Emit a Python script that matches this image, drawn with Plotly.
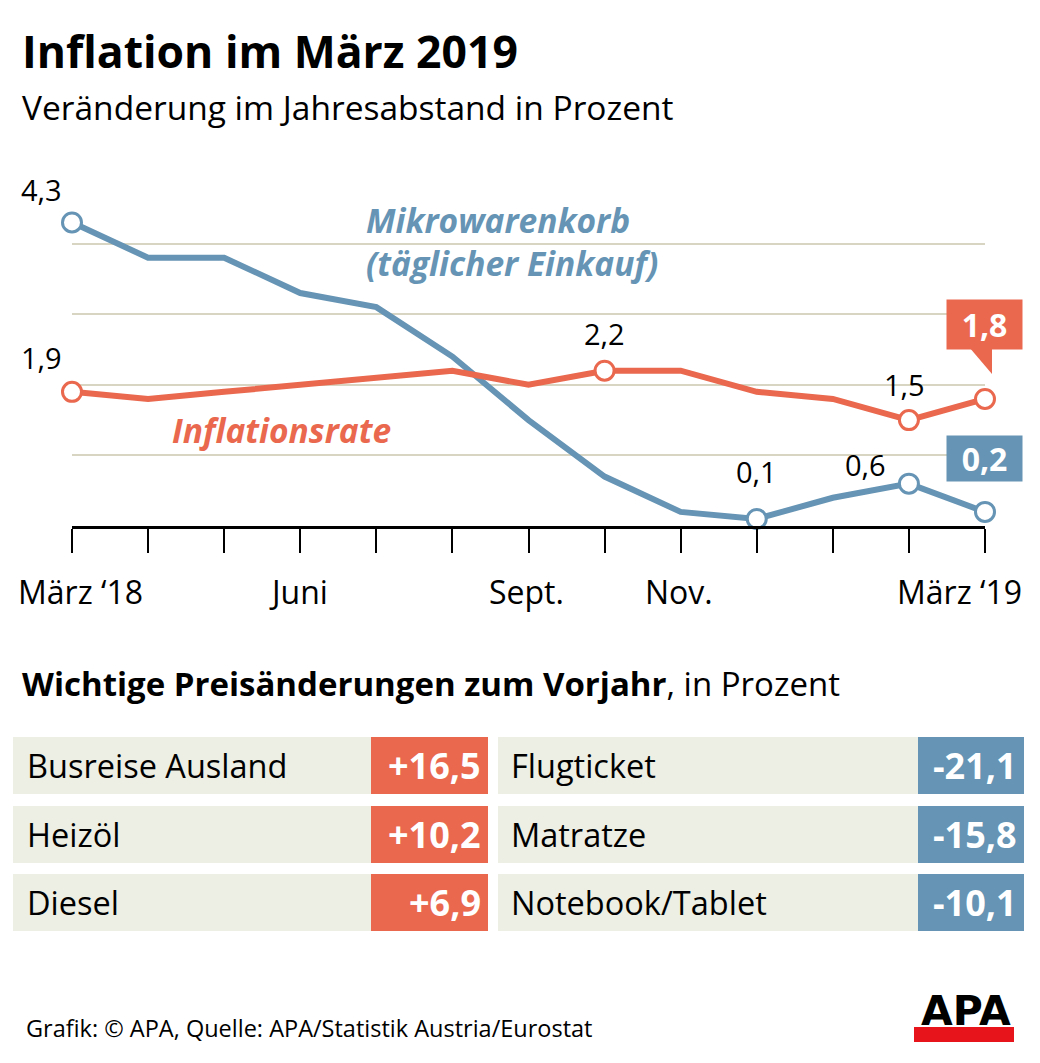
import plotly.graph_objects as go

# ---------------- data ----------------
months = ["März ‘18", "Apr", "Mai", "Juni", "Juli", "Aug", "Sept.", "Okt", "Nov.", "Dez", "Jan", "Feb", "März ‘19"]
tick_labels = ["März ‘18", "", "", "Juni", "", "", "Sept.", "", "Nov.", "", "", "", "März ‘19"]
inflation = [1.9, 1.8, 1.9, 2.0, 2.1, 2.2, 2.0, 2.2, 2.2, 1.9, 1.8, 1.5, 1.8]
mikro = [4.3, 3.8, 3.8, 3.3, 3.1, 2.4, 1.5, 0.7, 0.2, 0.1, 0.4, 0.6, 0.2]
infl_marked = [0, 7, 11, 12]
mikro_marked = [0, 9, 11, 12]
up_items = ["Busreise Ausland", "Heizöl", "Diesel"]
up_values = ["+16,5", "+10,2", "+6,9"]
down_items = ["Flugticket", "Matratze", "Notebook/Tablet"]
down_values = ["-21,1", "-15,8", "-10,1"]

# ---------------- style ----------------
W, H = 1040, 1063
RED = "#E9684E"
BLUE = "#6594B4"
GRID = "#D8D5C2"
TBG = "#EDEEE4"
FONT = "Open Sans"


def px(x):
    return x / W


def py(y):
    return 1 - y / H


xi = list(range(len(months)))

fig = go.Figure()
fig.add_trace(go.Scatter(x=xi, y=mikro, mode="lines", line=dict(color=BLUE, width=6), cliponaxis=False, hoverinfo="skip"))
fig.add_trace(go.Scatter(x=xi, y=inflation, mode="lines", line=dict(color=RED, width=6), cliponaxis=False, hoverinfo="skip"))
fig.add_trace(go.Scatter(x=mikro_marked, y=[mikro[i] for i in mikro_marked], mode="markers",
                         marker=dict(size=19, color="white", line=dict(color=BLUE, width=3)), cliponaxis=False))
fig.add_trace(go.Scatter(x=infl_marked, y=[inflation[i] for i in infl_marked], mode="markers",
                         marker=dict(size=19, color="white", line=dict(color=RED, width=3)), cliponaxis=False))

ann = []
shapes = []


def fmt(v):
    return f"{v:.1f}".replace(".", ",")


def text(x, y, t, size, color="black", xa="left", weight="normal", style="normal", family=FONT, **kw):
    d = dict(x=px(x), y=py(y), xref="paper", yref="paper", xanchor=xa, yanchor="middle", text=t,
             showarrow=False, font=dict(family=family, size=size, color=color, weight=weight, style=style))
    d.update(kw)
    ann.append(d)


# point labels
lab_offsets = [
    ("m", 0, -31, 33), ("i", 0, -31, 34), ("i", 7, 0, 37), ("i", 11, -4, 36),
    ("m", 9, 0, 47), ("m", 11, -43, 19),
]
for s, i, dx, dy in lab_offsets:
    v = mikro[i] if s == "m" else inflation[i]
    ann.append(dict(x=i, y=v, xref="x", yref="y", text=fmt(v), showarrow=False, xshift=dx, yshift=dy,
                    xanchor="center", yanchor="middle",
                    font=dict(family=FONT, size=29, color="black")))

# callout boxes
shapes.append(dict(type="path", xref="paper", yref="paper", layer="below",
                   path=f"M {px(969)} {py(347)} L {px(992)} {py(347)} L {px(992)} {py(374)} Z",
                   fillcolor=RED, line=dict(width=0)))
text(984.5, 324.5, "<b>" + fmt(inflation[-1]) + "</b>", 32, color="white", xa="center",
     bgcolor=RED, width=75, height=49, borderpad=0, align="center", valign="middle")
text(984.5, 458.5, "<b>" + fmt(mikro[-1]) + "</b>", 32, color="white", xa="center",
     bgcolor=BLUE, width=75, height=45, borderpad=0, align="center", valign="middle")

# series labels
text(364, 220, "Mikrowarenkorb", 33.5, color=BLUE, weight="bold", style="italic")
text(364, 263, "(täglicher Einkauf)", 33.5, color=BLUE, weight="bold", style="italic")
text(170, 430, "Inflationsrate", 33.5, color=RED, weight="bold", style="italic")

# x tick labels
label_shift = {0: 8, 12: -26}
for i, t in enumerate(tick_labels):
    if t:
        ann.append(dict(x=i, y=0, xref="x", yref="y", text=t, showarrow=False, yshift=-65,
                        xanchor="center", yanchor="middle",
                        xshift=label_shift.get(i, -2), font=dict(family=FONT, size=32, color="black")))

# title / subtitle
text(20, 50, "Inflation im März 2019", 44.5, weight="bold")
text(20, 107, "Veränderung im Jahresabstand in Prozent", 33.5)

# table header
text(20, 683, "<b>Wichtige Preisänderungen zum Vorjahr</b>, in Prozent", 33)

rows = [(737, 794), (806, 863), (874, 931)]
for r, (t, b) in enumerate(rows):
    yc = (t + b) / 2
    shapes.append(dict(type="rect", xref="paper", yref="paper", x0=px(13), x1=px(371), y0=py(b), y1=py(t),
                       fillcolor=TBG, line=dict(width=0), layer="below"))
    shapes.append(dict(type="rect", xref="paper", yref="paper", x0=px(371), x1=px(488), y0=py(b), y1=py(t),
                       fillcolor=RED, line=dict(width=0), layer="below"))
    shapes.append(dict(type="rect", xref="paper", yref="paper", x0=px(498), x1=px(918), y0=py(b), y1=py(t),
                       fillcolor=TBG, line=dict(width=0), layer="below"))
    shapes.append(dict(type="rect", xref="paper", yref="paper", x0=px(918), x1=px(1024), y0=py(b), y1=py(t),
                       fillcolor=BLUE, line=dict(width=0), layer="below"))
    text(25, yc, up_items[r], 32.5)
    text(483, yc, up_values[r], 36, color="white", xa="right", weight="bold")
    text(509, yc, down_items[r], 32.5)
    text(1019, yc, down_values[r], 36, color="white", xa="right", weight="bold")

# footer
text(24, 1028, "Grafik: © APA, Quelle: APA/Statistik Austria/Eurostat", 23.5)
text(966, 1011, "<b>APA</b>", 41, xa="center", family="DejaVu Sans")
shapes.append(dict(type="rect", xref="paper", yref="paper", x0=px(914), x1=px(1014), y0=py(1042), y1=py(1027),
                   fillcolor="#E8141B", line=dict(width=0)))

fig.update_layout(
    width=W, height=H, margin=dict(l=0, r=0, t=0, b=0),
    paper_bgcolor="white", plot_bgcolor="white", showlegend=False,
    annotations=ann, shapes=shapes,
    xaxis=dict(domain=[px(72), px(985)], range=[0, 12], tickvals=xi, ticks="outside", ticklen=24,
               tickwidth=1.5, tickcolor="black", showticklabels=False, showgrid=False, zeroline=False,
               showline=True, linecolor="black", linewidth=3, fixedrange=True),
    yaxis=dict(domain=[py(526), py(173)], range=[0, 5], tickvals=[1, 2, 3, 4, 5], showticklabels=False,
               showgrid=True, gridcolor=GRID, gridwidth=2, zeroline=False, showline=False, fixedrange=True),
)

fig.write_html("out.html")
